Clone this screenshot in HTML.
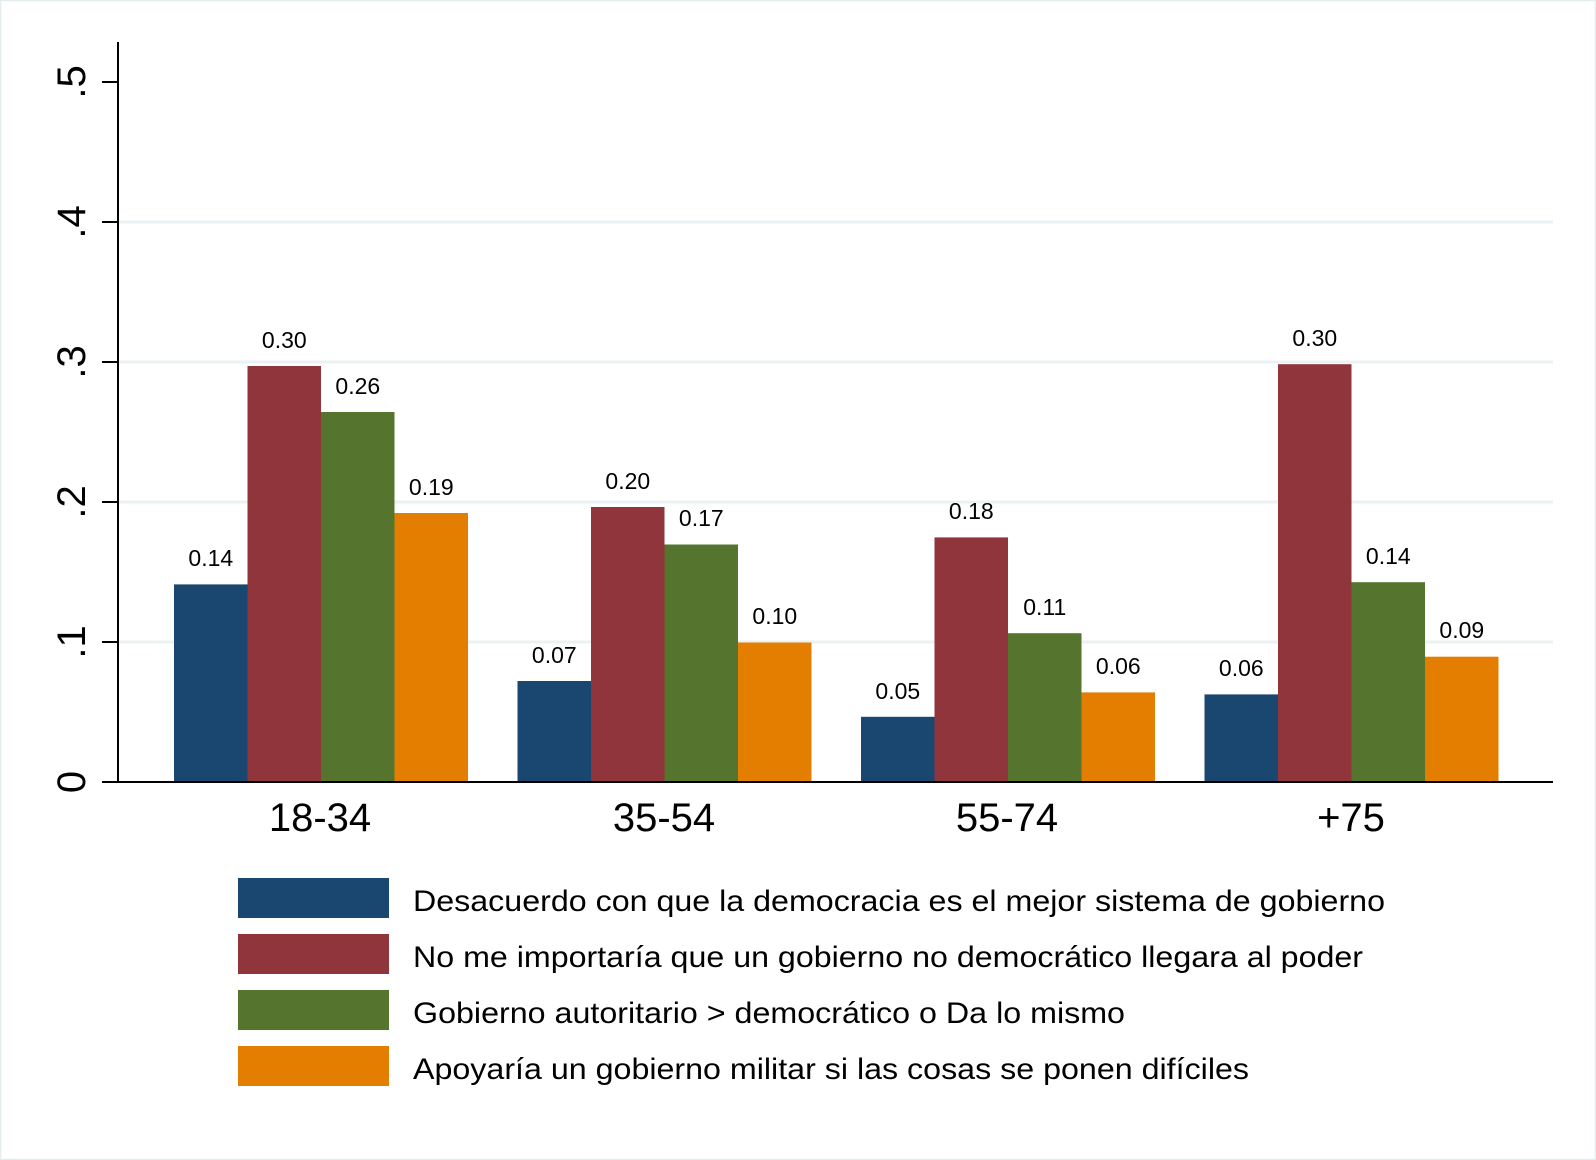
<!DOCTYPE html>
<html><head><meta charset="utf-8"><style>html,body{margin:0;padding:0;background:#fff}svg{display:block}</style></head>
<body>
<svg width="1596" height="1160" viewBox="0 0 1596 1160" xmlns="http://www.w3.org/2000/svg" font-family="Liberation Sans, Arial, sans-serif">
<rect x="0.5" y="0.5" width="1595" height="1159" fill="#fff" stroke="#e4ecee" stroke-width="1.5"/>
<g stroke="#eaf2f3" stroke-width="3">
<line x1="119" x2="1553" y1="642" y2="642"/>
<line x1="119" x2="1553" y1="502" y2="502"/>
<line x1="119" x2="1553" y1="362" y2="362"/>
<line x1="119" x2="1553" y1="222" y2="222"/>
</g>
<g>
<rect x="174" y="584.4" width="73.5" height="197.6" fill="#1a476f"/>
<rect x="247.5" y="366" width="73.5" height="416" fill="#90353b"/>
<rect x="321" y="412" width="73.5" height="370" fill="#55752f"/>
<rect x="394.5" y="513" width="73.5" height="269" fill="#e37e00"/>
<rect x="517.5" y="681" width="73.5" height="101" fill="#1a476f"/>
<rect x="591" y="507" width="73.5" height="275" fill="#90353b"/>
<rect x="664.5" y="544.5" width="73.5" height="237.5" fill="#55752f"/>
<rect x="738" y="642.5" width="73.5" height="139.5" fill="#e37e00"/>
<rect x="861" y="716.8" width="73.5" height="65.2" fill="#1a476f"/>
<rect x="934.5" y="537.4" width="73.5" height="244.6" fill="#90353b"/>
<rect x="1008" y="633.2" width="73.5" height="148.8" fill="#55752f"/>
<rect x="1081.5" y="692.4" width="73.5" height="89.6" fill="#e37e00"/>
<rect x="1204.5" y="694.4" width="73.5" height="87.6" fill="#1a476f"/>
<rect x="1278" y="364.2" width="73.5" height="417.8" fill="#90353b"/>
<rect x="1351.5" y="582.2" width="73.5" height="199.8" fill="#55752f"/>
<rect x="1425" y="656.7" width="73.5" height="125.3" fill="#e37e00"/>
</g>
<g stroke="#000" stroke-width="2">
<line x1="118" y1="42" x2="118" y2="783"/>
<line x1="117" y1="782" x2="1553" y2="782"/>
<line x1="102" x2="118" y1="782" y2="782"/>
<line x1="102" x2="118" y1="642" y2="642"/>
<line x1="102" x2="118" y1="502" y2="502"/>
<line x1="102" x2="118" y1="362" y2="362"/>
<line x1="102" x2="118" y1="222" y2="222"/>
<line x1="102" x2="118" y1="82" y2="82"/>
</g>
<g font-size="40" text-anchor="middle" fill="#000">
<text transform="translate(85,782) rotate(-90)">0</text>
<text transform="translate(85,642) rotate(-90)">.1</text>
<text transform="translate(85,502) rotate(-90)">.2</text>
<text transform="translate(85,362) rotate(-90)">.3</text>
<text transform="translate(85,222) rotate(-90)">.4</text>
<text transform="translate(85,82) rotate(-90)">.5</text>
</g>
<g font-size="40" text-anchor="middle" fill="#000">
<text x="320" y="831">18-34</text>
<text x="664" y="831">35-54</text>
<text x="1007" y="831">55-74</text>
<text x="1351" y="831">+75</text>
</g>
<rect x="238" y="878" width="151" height="40" fill="#1a476f"/>
<rect x="238" y="934" width="151" height="40" fill="#90353b"/>
<rect x="238" y="990" width="151" height="40" fill="#55752f"/>
<rect x="238" y="1046" width="151" height="40" fill="#e37e00"/>
<g font-size="30" fill="#000">
<text x="413" y="911" textLength="972" lengthAdjust="spacingAndGlyphs">Desacuerdo con que la democracia es el mejor sistema de gobierno</text>
<text x="413" y="967" textLength="950" lengthAdjust="spacingAndGlyphs">No me importaría que un gobierno no democrático llegara al poder</text>
<text x="413" y="1023" textLength="712" lengthAdjust="spacingAndGlyphs">Gobierno autoritario &gt; democrático o Da lo mismo</text>
<text x="413" y="1079" textLength="836" lengthAdjust="spacingAndGlyphs">Apoyaría un gobierno militar si las cosas se ponen difíciles</text>
</g>
<g font-size="23" text-anchor="middle" fill="#000">
<text x="210.8" y="566">0.14</text>
<text x="284.3" y="348">0.30</text>
<text x="357.8" y="394">0.26</text>
<text x="431.3" y="495">0.19</text>
<text x="554.3" y="663">0.07</text>
<text x="627.8" y="489">0.20</text>
<text x="701.3" y="526">0.17</text>
<text x="774.8" y="624">0.10</text>
<text x="897.8" y="699">0.05</text>
<text x="971.3" y="519">0.18</text>
<text x="1044.8" y="615">0.11</text>
<text x="1118.3" y="674">0.06</text>
<text x="1241.3" y="676">0.06</text>
<text x="1314.8" y="346">0.30</text>
<text x="1388.3" y="564">0.14</text>
<text x="1461.8" y="638">0.09</text>
</g>
</svg>
</body></html>
